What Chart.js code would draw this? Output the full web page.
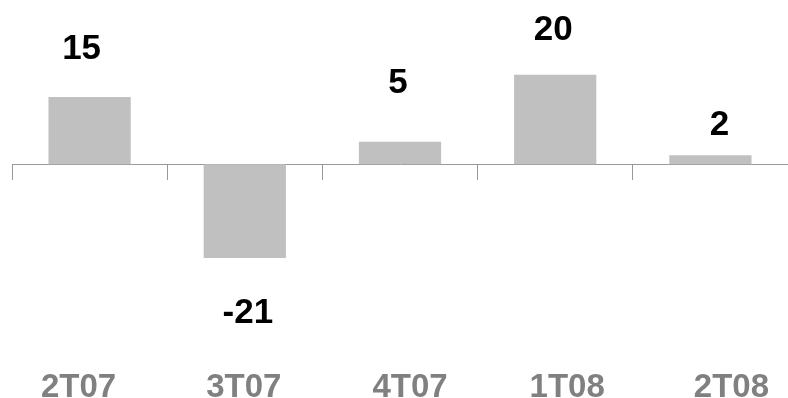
<!DOCTYPE html>
<html>
<head>
<meta charset="utf-8">
<script src="https://cdn.jsdelivr.net/npm/chart.js@4.4.1/dist/chart.umd.min.js"></script>
<style>
    html, body { margin: 0; padding: 0; background: #fff; overflow: hidden; }
    #wrap { width: 788px; height: 398px; position: relative; }
</style>
</head>
<body>
<div id="wrap"><canvas id="barChart"></canvas></div>
<script>
// Quarterly figures
const quarters = ["2T07", "3T07", "4T07", "1T08", "2T08"];
const values = [15, -21, 5, 20, 2];

// Label nudges (px) for the value labels and the quarter names
const valueDx = [-8, 3, -2, -2, 9];
const valueDy = [-51, 52, -61, -47, -33];
const quarterDx = [-11, -1, 10, 12, 21];

// Draws the value above/below each bar and the quarter names along the bottom
const labelPlugin = {
    id: "labels",
    afterDatasetsDraw(chart) {
        const ctx = chart.ctx;
        const meta = chart.getDatasetMeta(0);
        ctx.save();
        ctx.textAlign = "center";
        ctx.textBaseline = "alphabetic";

        ctx.font = "bold 35px 'Liberation Sans', Arial, sans-serif";
        ctx.fillStyle = "#000";
        meta.data.forEach(function (bar, i) {
            ctx.fillText(String(values[i]), bar.x + valueDx[i], bar.y + valueDy[i] + 12.5);
        });

        ctx.font = "bold 33px 'Liberation Sans', Arial, sans-serif";
        ctx.fillStyle = "#808080";
        const xScale = chart.scales.x;
        quarters.forEach(function (q, i) {
            ctx.fillText(q, xScale.getPixelForValue(i) + quarterDx[i], 384.5 + 12);
        });
        ctx.restore();
    }
};

const ctx = document.getElementById("barChart").getContext("2d");
new Chart(ctx, {
    type: "bar",
    data: {
        labels: quarters,
        datasets: [{
            data: values,
            backgroundColor: "#c0c0c0",
            borderWidth: 0,
            barPercentage: 0.53,
            categoryPercentage: 1
        }]
    },
    options: {
        responsive: true,
        maintainAspectRatio: false,
        devicePixelRatio: 1,
        animation: false,
        layout: { padding: { left: 12, right: 0, top: 30, bottom: 55 } },
        plugins: {
            legend: { display: false },
            tooltip: { enabled: false }
        },
        scales: {
            x: {
                position: { y: 0 },
                z: 1,
                offset: true,
                ticks: { display: false },
                grid: {
                    offset: true,
                    drawOnChartArea: false,
                    drawTicks: true,
                    tickLength: 15,
                    color: "#999",
                    lineWidth: 1
                },
                border: { display: true, color: "#999", width: 1 }
            },
            y: {
                display: false,
                min: -40,
                max: 30
            }
        }
    },
    plugins: [labelPlugin]
});
</script>
</body>
</html>
